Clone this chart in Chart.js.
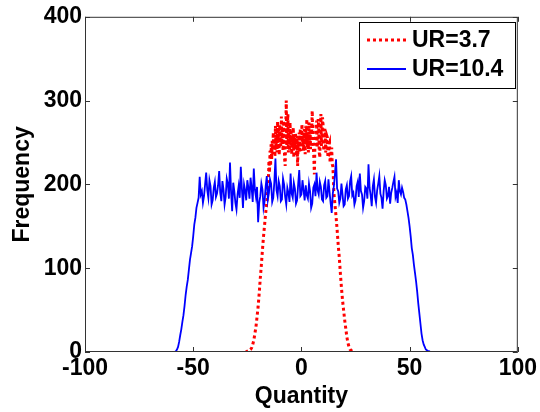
<!DOCTYPE html>
<html>
<head>
<meta charset="utf-8">
<script src="https://cdn.jsdelivr.net/npm/chart.js@4.4.1/dist/chart.umd.min.js"></script>
<style>
  html, body { margin: 0; padding: 0; background: #fff; }
  #wrap { width: 540px; height: 412px; }
</style>
</head>
<body>
<div id="wrap"><canvas id="histChart" width="540" height="412"></canvas></div>
<script>
// histogram bins
const xTicks = [-100, -50, 0, 50, 100];
const yTicks = [0, 100, 200, 300, 400];

const redLabel = "UR=3.7";
const redX = [
  -26, -25.5, -25, -24.5, -24, -23.5, -23, -22.5, -22, -21.5, -21, -20.5, -20, -19.5, -19, -18.5,
  -18, -17.5, -17, -16.5, -16, -15.5,
  -15.25, -15, -14.75, -14.5, -14.25, -14, -13.75, -13.5,
  -13.25, -13, -12.75, -12.5, -12.25, -12, -11.75, -11.5,
  -11.25, -11, -10.75, -10.5, -10.25, -10, -9.75, -9.5,
  -9.25, -9, -8.75, -8.5, -8.25, -8, -7.75, -7.5,
  -7.25, -7, -6.75, -6.5, -6.25, -6, -5.75, -5.5,
  -5.25, -5, -4.75, -4.5, -4.25, -4, -3.75, -3.5,
  -3.25, -3, -2.75, -2.5, -2.25, -2, -1.75, -1.5,
  -1.25, -1, -0.75, -0.5, -0.25, 0, 0.25, 0.5,
  0.75, 1, 1.25, 1.5, 1.75, 2, 2.25, 2.5,
  2.75, 3, 3.25, 3.5, 3.75, 4, 4.25, 4.5,
  4.75, 5, 5.25, 5.5, 5.75, 6, 6.25, 6.5,
  6.75, 7, 7.25, 7.5, 7.75, 8, 8.25, 8.5,
  8.75, 9, 9.25, 9.5, 9.75, 10, 10.25, 10.5,
  10.75, 11, 11.25, 11.5, 11.75, 12, 12.25, 12.5,
  12.75, 13, 13.25, 13.5, 13.75, 14, 14.25, 14.5,
  14.75,
  15, 15.5, 16, 16.5, 17, 17.5, 18, 18.5, 19, 19.5, 20, 20.5, 21, 21.5, 22, 22.5, 23, 23.5, 24];
const redY = [
  0, 0, 1, 1, 2, 3, 5, 9, 14, 22, 30, 42, 54, 70, 88, 104,
  122, 138, 152, 166, 178, 193,
  205, 228, 214, 240, 222, 248, 230, 252,
  236, 262, 241, 255, 233, 270, 244, 258,
  238, 275, 250, 266, 235, 272, 254, 246,
  281, 248, 268, 240, 276, 258, 230, 222,
  262, 300, 246, 270, 284, 238, 262, 240,
  274, 248, 266, 236, 258, 250, 268, 232,
  256, 242, 262, 246, 234, 258, 222, 250,
  244, 262, 238, 266, 250, 240, 272, 246,
  258, 240, 266, 252, 236, 270, 250, 278,
  244, 262, 238, 274, 248, 264, 242, 270,
  260, 288, 250, 246, 232, 212, 248, 256,
  270, 276, 244, 250, 278, 268, 238, 232,
  264, 284, 246, 254, 280, 272, 244, 240,
  266, 262, 238, 246, 258, 256, 232, 234,
  248, 250, 226, 228, 240, 244, 224, 222,
  210,
  190, 176, 162, 146, 128, 113, 94, 77, 62, 50, 38, 28, 18, 11, 6, 3, 2, 1, 0];

const blueLabel = "UR=10.4";
const blueX = [
  -59, -58.5, -58, -57.5, -57, -56.5, -56, -55.5, -55, -54.5,
  -54, -53.5, -53, -52.5, -52, -51.5, -51, -50.5, -50, -49.5,
  -49, -48.5, -48, -47.5, -47, -46.5, -46, -45.5, -45, -44.5,
  -44, -43.5, -43, -42.5, -42, -41.5, -41, -40.5, -40, -39.5,
  -39, -38.5, -38, -37.5, -37, -36.5, -36, -35.5, -35, -34.5,
  -34, -33.5, -33, -32.5, -32, -31.5, -31, -30.5, -30, -29.5,
  -29, -28.5, -28, -27.5, -27, -26.5, -26, -25.5, -25, -24.5,
  -24, -23.5, -23, -22.5, -22, -21.5, -21, -20.5, -20, -19.5,
  -19, -18.5, -18, -17.5, -17, -16.5, -16, -15.5, -15, -14.5,
  -14, -13.5, -13, -12.5, -12, -11.5, -11, -10.5, -10, -9.5,
  -9, -8.5, -8, -7.5, -7, -6.5, -6, -5.5, -5, -4.5,
  -4, -3.5, -3, -2.5, -2, -1.5, -1, -0.5, 0, 0.5,
  1, 1.5, 2, 2.5, 3, 3.5, 4, 4.5, 5, 5.5,
  6, 6.5, 7, 7.5, 8, 8.5, 9, 9.5, 10, 10.5,
  11, 11.5, 12, 12.5, 13, 13.5, 14, 14.5, 15, 15.5,
  16, 16.5, 17, 17.5, 18, 18.5, 19, 19.5, 20, 20.5,
  21, 21.5, 22, 22.5, 23, 23.5, 24, 24.5, 25, 25.5,
  26, 26.5, 27, 27.5, 28, 28.5, 29, 29.5, 30, 30.5,
  31, 31.5, 32, 32.5, 33, 33.5, 34, 34.5, 35, 35.5,
  36, 36.5, 37, 37.5, 38, 38.5, 39, 39.5, 40, 40.5,
  41, 41.5, 42, 42.5, 43, 43.5, 44, 44.5, 45, 45.5,
  46, 46.5, 47, 47.5, 48, 48.5, 49, 49.5, 50, 50.5,
  51, 51.5, 52, 52.5, 53, 53.5, 54, 54.5, 55, 55.5,
  56, 56.5, 57, 57.5, 58, 58.5, 59, 59.5, 60, 60.5];
const blueY = [
  0, 0, 1, 3, 6, 12, 20, 27, 36, 44,
  55, 68, 78, 86, 98, 110, 118, 126, 138, 152,
  160, 172, 178, 184, 209, 188, 192, 178, 186, 200,
  214, 193, 184, 205, 198, 176, 181, 196, 203, 185,
  189, 199, 216, 190, 180, 204, 194, 176, 185, 207,
  201, 183, 226, 191, 168, 202, 192, 178, 170, 188,
  198, 184, 221, 195, 172, 200, 193, 181, 205, 196,
  183, 208, 196, 179, 219, 194, 185, 197, 155, 178,
  186, 201, 194, 172, 180, 198, 210, 182, 190, 206,
  201, 179, 184, 203, 231, 193, 186, 204, 198, 180,
  182, 207, 200, 185, 176, 196, 190, 179, 213, 189,
  184, 202, 195, 177, 181, 200, 217, 186, 188, 205,
  193, 181, 199, 187, 183, 201, 192, 172, 177, 196,
  200, 186, 214, 193, 188, 203, 197, 182, 180, 199,
  204, 184, 186, 206, 191, 178, 166, 189, 198, 212,
  230, 195, 192, 178, 183, 201, 188, 174, 176, 194,
  199, 183, 186, 204, 210, 187, 190, 176, 181, 198,
  203, 185, 213, 192, 188, 172, 180, 197, 195, 183,
  224, 196, 187, 174, 198, 206, 185, 178, 193, 201,
  210, 189, 184, 171, 192, 205, 199, 183, 186, 197,
  177, 190, 196, 203, 209, 185, 190, 178, 205, 192,
  188, 196, 191, 184, 182, 176, 168, 160, 150, 138,
  124, 116, 104, 94, 84, 72, 58, 46, 34, 22,
  14, 9, 6, 3, 2, 1, 1, 0, 0, 0];

const FONT = "'Liberation Sans', Arial, Helvetica, sans-serif";

function pairs(xs, ys) {
  return xs.map((x, i) => ({ x: x, y: ys[i] }));
}

// MATLAB style box with inward ticks on all four sides, plus the legend
const boxPlugin = {
  id: "matlabBox",
  afterDatasetsDraw(chart) {
    const { ctx, chartArea: a, scales } = chart;
    ctx.save();
    ctx.strokeStyle = "#333";
    ctx.lineWidth = 1;
    ctx.strokeRect(a.left + 0.5, a.top + 0.5, a.right - a.left - 1, a.bottom - a.top - 1);
    const tl = 5;
    ctx.beginPath();
    xTicks.forEach((v) => {
      const px = Math.round(scales.x.getPixelForValue(v)) + 0.5;
      ctx.moveTo(px, a.bottom); ctx.lineTo(px, a.bottom - tl);
      ctx.moveTo(px, a.top); ctx.lineTo(px, a.top + tl);
    });
    yTicks.forEach((v) => {
      const py = Math.round(scales.y.getPixelForValue(v)) + 0.5;
      ctx.moveTo(a.left, py); ctx.lineTo(a.left + tl, py);
      ctx.moveTo(a.right, py); ctx.lineTo(a.right - tl, py);
    });
    ctx.stroke();
    ctx.restore();
  },
  afterDraw(chart) {
    const { ctx } = chart;
    const bx = 359, by = 22, bw = 156, bh = 66;
    ctx.save();
    ctx.fillStyle = "#fff";
    ctx.fillRect(bx, by, bw, bh);
    ctx.strokeStyle = "#000";
    ctx.lineWidth = 1;
    ctx.strokeRect(bx + 0.5, by + 0.5, bw, bh);
    const rows = [40, 69];
    chart.data.datasets.forEach((ds, i) => {
      const y = rows[i];
      ctx.beginPath();
      ctx.strokeStyle = ds.borderColor;
      ctx.lineWidth = ds.borderWidth;
      ctx.setLineDash(ds.borderDash || []);
      ctx.moveTo(367, y);
      ctx.lineTo(406, y);
      ctx.stroke();
      ctx.setLineDash([]);
      ctx.fillStyle = "#000";
      ctx.font = "bold 23px " + FONT;
      ctx.textBaseline = "middle";
      ctx.fillText(ds.label, 412, y + 1);
    });
    ctx.restore();
  },
};

function initChart() {
  const ctx = document.getElementById("histChart");

  new Chart(ctx, {
    type: "line",
    data: {
      datasets: [
        {
          label: redLabel,
          data: pairs(redX, redY),
          borderColor: "#ff0000",
          borderWidth: 3,
          borderDash: [3, 3],
          pointRadius: 0,
          tension: 0,
          order: 1,
        },
        {
          label: blueLabel,
          data: pairs(blueX, blueY),
          borderColor: "#0000ff",
          borderWidth: 1.8,
          pointRadius: 0,
          tension: 0,
          order: 0,
        },
      ],
    },
    options: {
      responsive: false,
      animation: false,
      layout: { padding: { left: 0, right: 21, top: 15, bottom: 0 } },
      plugins: {
        legend: { display: false },
        tooltip: { enabled: false },
      },
      scales: {
        x: {
          type: "linear",
          min: -100,
          max: 100,
          afterFit: (s) => { s.height = 60; },
          afterBuildTicks: (s) => { s.ticks = xTicks.map((v) => ({ value: v })); },
          grid: { display: false, drawTicks: false },
          border: { display: false },
          ticks: { color: "#000", padding: 3, font: { family: FONT, size: 23, weight: "bold" } },
          title: {
            display: true,
            text: "Quantity",
            color: "#000",
            padding: { top: 0, bottom: 2 },
            font: { family: FONT, size: 23, weight: "bold" },
          },
        },
        y: {
          min: 0,
          max: 400,
          afterFit: (s) => { s.width = 85; },
          afterBuildTicks: (s) => { s.ticks = yTicks.map((v) => ({ value: v })); },
          grid: { display: false, drawTicks: false },
          border: { display: false },
          ticks: { color: "#000", padding: 3, font: { family: FONT, size: 23, weight: "bold" } },
          title: {
            display: true,
            text: "Frequency",
            color: "#000",
            padding: { top: 9, bottom: 0 },
            font: { family: FONT, size: 23, weight: "bold" },
          },
        },
      },
    },
    plugins: [boxPlugin],
  });
}

if (document.readyState === "loading")
  document.addEventListener("DOMContentLoaded", initChart);
else initChart();
</script>
</body>
</html>
